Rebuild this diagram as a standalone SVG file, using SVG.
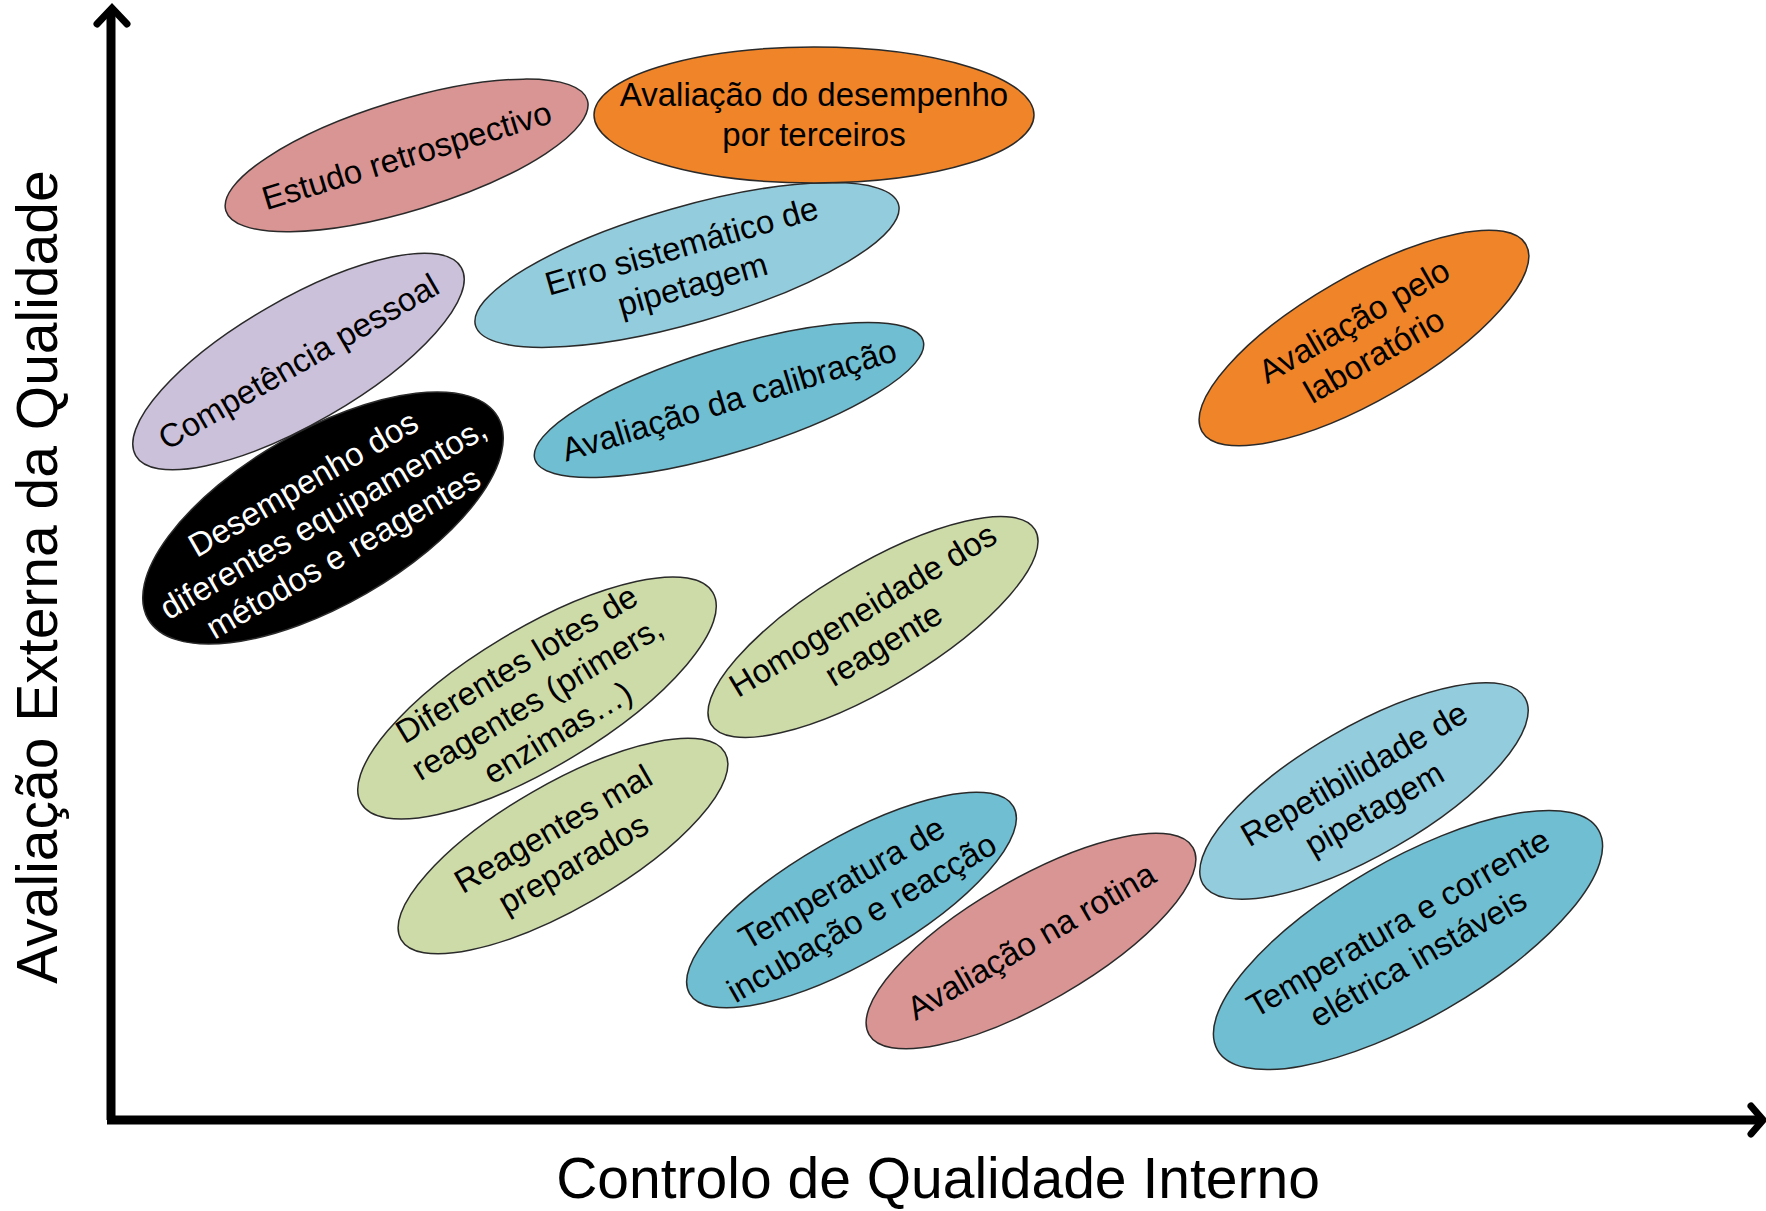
<svg xmlns="http://www.w3.org/2000/svg" width="1766" height="1211" viewBox="0 0 1766 1211">
<style>
.e{stroke:#2a2a2a;stroke-width:1.5}
.pink{fill:#D99594}
.orange{fill:#F08428}
.lav{fill:#CCC1DA}
.lblue{fill:#93CDDD}
.blue{fill:#70BED2}
.green{fill:#CDDBA9}
.black{fill:#000}
text{font-family:"Liberation Sans",Arial,sans-serif;text-anchor:middle}
.t{font-size:33px;fill:#000}
.w{fill:#fff}
.ax{font-size:57px;fill:#000}
.axis{stroke:#000;stroke-width:9;fill:none}
.head{stroke:#000;stroke-width:7;fill:none;stroke-linecap:round;stroke-linejoin:miter}
</style>
<rect width="1766" height="1211" fill="#fff"/>
<g id="axes">
<path class="axis" d="M111,1120 V12"/>
<path class="axis" d="M107,1120 H1760"/>
<path class="head" d="M97,24 L112,8 L127,24"/>
<path class="head" d="M1751,1106 L1763,1120 L1751,1134"/>
<text class="ax" x="0" y="0" transform="translate(57,577) rotate(-90)">Avaliação Externa da Qualidade</text>
<text class="ax" x="938" y="1198">Controlo de Qualidade Interno</text>
</g>
<g id="n1" transform="translate(406.6,155.4) rotate(-17)"><ellipse class="e pink" rx="189" ry="55"/><text class="t" y="11.5">Estudo retrospectivo</text></g>
<g id="n4" transform="translate(687,265) rotate(-16)"><ellipse class="e lblue" rx="220" ry="58"/><text class="t" y="-8.5">Erro sistemático de</text><text class="t" y="31.5">pipetagem</text></g>
<g id="n2" transform="translate(814,115)"><ellipse class="e orange" rx="220" ry="68"/><text class="t" y="-9">Avaliação do desempenho</text><text class="t" y="31">por terceiros</text></g>
<g id="n3" transform="translate(298.5,361.5) rotate(-30)"><ellipse class="e lav" rx="188" ry="62"/><text class="t" y="11.5">Competência pessoal</text></g>
<g id="n5" transform="translate(729,400) rotate(-17)"><ellipse class="e blue" rx="203" ry="52"/><text class="t" y="11.5">Avaliação da calibração</text></g>
<g id="n6" transform="translate(323,518) rotate(-30)"><ellipse class="e black" rx="202" ry="87"/><text class="t w" y="-28.5">Desempenho dos</text><text class="t w" y="11.5">diferentes equipamentos,</text><text class="t w" y="51.5">métodos e reagentes</text></g>
<g id="n7" transform="translate(537,698) rotate(-31)"><ellipse class="e green" rx="205" ry="69"/><text class="t" y="-28.5">Diferentes lotes de</text><text class="t" y="11.5">reagentes (primers,</text><text class="t" y="51.5">enzimas…)</text></g>
<g id="n8" transform="translate(873,627) rotate(-31)"><ellipse class="e green" rx="189" ry="61"/><text class="t" y="-8.5">Homogeneidade dos</text><text class="t" y="31.5">reagente</text></g>
<g id="n9" transform="translate(563,846) rotate(-30)"><ellipse class="e green" rx="187" ry="62"/><text class="t" y="-8.5">Reagentes mal</text><text class="t" y="31.5">preparados</text></g>
<g id="n10" transform="translate(851.5,900) rotate(-30)"><ellipse class="e blue" rx="187" ry="62"/><text class="t" y="-8.5">Temperatura de</text><text class="t" y="31.5">incubação e reacção</text></g>
<g id="n11" transform="translate(1031,941) rotate(-30)"><ellipse class="e pink" rx="187" ry="62"/><text class="t" y="11.5">Avaliação na rotina</text></g>
<g id="n12" transform="translate(1364,338) rotate(-30)"><ellipse class="e orange" rx="187" ry="62"/><text class="t" y="-8.5">Avaliação pelo</text><text class="t" y="31.5">laboratório</text></g>
<g id="n13" transform="translate(1364,791) rotate(-30)"><ellipse class="e lblue" rx="186" ry="64"/><text class="t" y="-8.5">Repetibilidade de</text><text class="t" y="31.5">pipetagem</text></g>
<g id="n14" transform="translate(1408,940) rotate(-30)"><ellipse class="e blue" rx="220" ry="79"/><text class="t" y="-8.5">Temperatura e corrente</text><text class="t" y="31.5">elétrica instáveis</text></g>
</svg>
